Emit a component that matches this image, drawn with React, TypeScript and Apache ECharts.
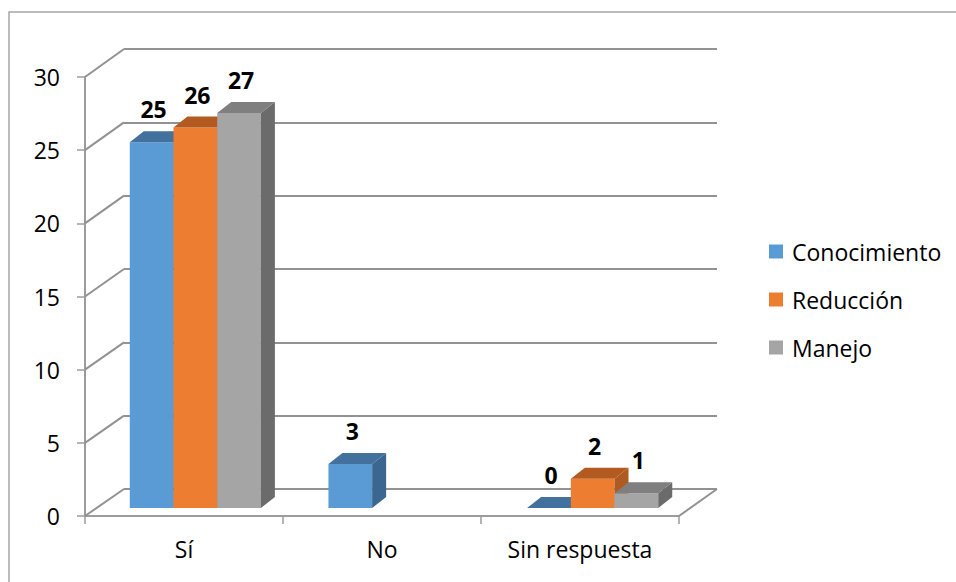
import React, { useEffect, useRef } from "react";
import * as echarts from "echarts";

const categories = ["Sí", "No", "Sin respuesta"];
const seriesNames = ["Conocimiento", "Reducción", "Manejo"];
const conocimiento: (number | null)[] = [25, 3, 0];
const reduccion: (number | null)[] = [26, null, 2];
const manejo: (number | null)[] = [27, null, 1];
const yTicks = [0, 5, 10, 15, 20, 25, 30];

const FONT = "'Open Sans', 'Noto Sans', sans-serif";
const faceColors = [
  { front: "#5B9BD5", top: "#41719C", side: "#3A6690" },
  { front: "#ED7D31", top: "#B35A20", side: "#AE5A21" },
  { front: "#A5A5A5", top: "#7F7F7F", side: "#6B6B6B" },
];

const FRONT = { left: 85, top: 77, width: 594, height: 439 };
const BACK = { left: 124, top: 49, width: 593, height: 440 };
const BARS = { left: 96, top: 69, width: 596, height: 439 };
const DEPTH_X = 14;
const DEPTH_Y = -11;

export default function App() {
  const ref = useRef<HTMLDivElement>(null);
  useEffect(() => {
    if (!ref.current) return;
    const chart = echarts.init(ref.current, null, { renderer: "svg" });
    const allData = [conocimiento, reduccion, manejo];

    const makeRender = (sIdx: number) => (params: any, api: any) => {
      const v = api.value(1);
      if (v === null || v === undefined || isNaN(v)) return;
      const ci = api.value(0);
      const base = api.coord([ci, 0]);
      const top = api.coord([ci, v]);
      const band = api.size([1, 0])[0];
      const bw = band * 0.22;
      const x0 = base[0] + (sIdx - 1) * bw - bw / 2;
      const c = faceColors[sIdx];
      const yT = top[1];
      const yB = base[1];
      return {
        type: "group",
        children: [
          {
            type: "rect",
            shape: { x: x0, y: yT, width: bw, height: yB - yT },
            style: { fill: c.front },
          },
          {
            type: "polygon",
            shape: {
              points: [
                [x0 + bw, yT],
                [x0 + bw + DEPTH_X, yT + DEPTH_Y],
                [x0 + bw + DEPTH_X, yB + DEPTH_Y],
                [x0 + bw, yB],
              ],
            },
            style: { fill: c.side },
          },
          {
            type: "polygon",
            shape: {
              points: [
                [x0, yT],
                [x0 + bw, yT],
                [x0 + bw + DEPTH_X, yT + DEPTH_Y],
                [x0 + DEPTH_X, yT + DEPTH_Y],
              ],
            },
            style: { fill: c.top },
          },
          {
            type: "text",
            x: x0 + bw / 2 + 2,
            y: yT + DEPTH_Y - 22,
            style: {
              text: String(v),
              align: "center",
              verticalAlign: "middle",
              fontFamily: FONT,
              fontWeight: "bold",
              fontSize: 23,
              fill: "#000",
            },
          },
        ],
      };
    };

    const barSeries = seriesNames.map((name, i) => ({
      name,
      type: "custom",
      xAxisIndex: 2,
      yAxisIndex: 2,
      itemStyle: { color: faceColors[i].front },
      renderItem: makeRender(i),
      data: allData[i].map((v, k) => [k, v === null ? NaN : v]),
    }));

    chart.setOption({
      animation: false,
      backgroundColor: "#fff",
      grid: [
        { ...FRONT, containLabel: false },
        { ...BACK, containLabel: false },
        { ...BARS, containLabel: false },
      ],
      xAxis: [
        {
          gridIndex: 0,
          type: "category",
          data: categories,
          axisLine: { show: true, lineStyle: { color: "#9c9c9c", width: 2 } },
          axisTick: { show: true, length: 8, lineStyle: { color: "#9c9c9c", width: 1.5 } },
          axisLabel: { margin: 21, fontSize: 23, color: "#000", fontFamily: FONT },
          splitLine: { show: false },
        },
        { gridIndex: 1, type: "category", data: categories, show: false },
        { gridIndex: 2, type: "category", data: categories, show: false },
      ],
      yAxis: [
        {
          gridIndex: 0,
          type: "value",
          min: 0,
          max: 30,
          interval: 5,
          axisLine: { show: true, lineStyle: { color: "#9c9c9c", width: 2 } },
          axisTick: { show: true, length: 8, lineStyle: { color: "#9c9c9c", width: 1.5 } },
          axisLabel: { margin: 25, fontSize: 23, color: "#000", fontFamily: FONT },
          splitLine: { show: false },
        },
        {
          gridIndex: 1,
          type: "value",
          min: 0,
          max: 30,
          interval: 5,
          axisLine: { show: false },
          axisTick: { show: false },
          axisLabel: { show: false },
          splitLine: { show: true, lineStyle: { color: "#929292", width: 2 } },
        },
        { gridIndex: 2, type: "value", min: 0, max: 30, interval: 5, show: false },
      ],
      legend: {
        orient: "vertical",
        left: 769,
        top: 240,
        padding: 0,
        itemWidth: 14,
        itemHeight: 14,
        itemGap: 25,
        icon: "rect",
        data: seriesNames,
        textStyle: { fontSize: 23, lineHeight: 23, color: "#000", fontFamily: FONT, padding: [0, 0, 0, 4] },
      },
      series: barSeries,
    });

    const yF = (v: number) => chart.convertToPixel({ yAxisIndex: 0 }, v) as number;
    const yBk = (v: number) => chart.convertToPixel({ yAxisIndex: 1 }, v) as number;
    const lineStyle = { stroke: "#929292", lineWidth: 2 };
    const diagonals: any[] = yTicks.map((t) => ({
      type: "line",
      shape: { x1: FRONT.left, y1: yF(t), x2: BACK.left, y2: yBk(t) },
      style: lineStyle,
      z: 1,
    }));
    diagonals.push({
      type: "line",
      shape: {
        x1: FRONT.left + FRONT.width,
        y1: yF(0),
        x2: BACK.left + BACK.width,
        y2: yBk(0),
      },
      style: lineStyle,
      z: 1,
    });
    diagonals.push({
      type: "rect",
      shape: { x: 9, y: 12, width: 1000, height: 1000 },
      style: { fill: "none", stroke: "#a6a6a6", lineWidth: 1.5 },
      z: 0,
    });
    chart.setOption({ graphic: diagonals });

    return () => chart.dispose();
  }, []);
  return (
    <div
      ref={ref}
      style={{ position: "absolute", left: 0, top: 0, width: 956, height: 582 }}
    />
  );
}
